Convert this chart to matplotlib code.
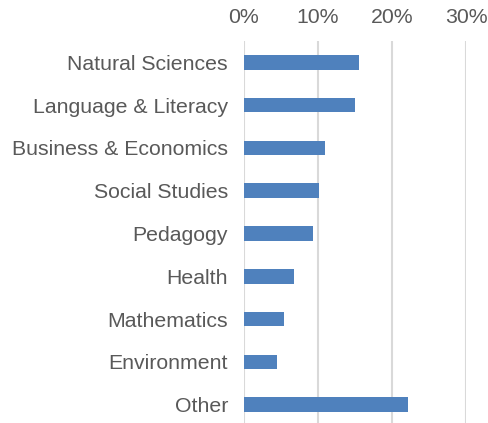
import matplotlib.pyplot as plt
from matplotlib.ticker import PercentFormatter

# --- Data ---
categories = ['Natural Sciences', 'Language & Literacy', 'Business & Economics',
              'Social Studies', 'Pedagogy', 'Health', 'Mathematics',
              'Environment', 'Other']
shares = [0.156, 0.150, 0.110, 0.102, 0.093, 0.068, 0.054, 0.045, 0.222]
x_ticks = [0, 0.1, 0.2, 0.3]

plt.rcParams['font.family'] = ['Liberation Sans', 'DejaVu Sans']

fig = plt.figure(figsize=(4.89, 4.23), dpi=100)
ax = fig.add_axes([244 / 489, -3 / 423, 222 / 489, 385 / 423])

ypos = range(len(categories))
ax.barh(ypos, shares, height=0.34, color='#4f81bd', zorder=3)

ax.set_xlim(0, 0.3)
ax.set_ylim(len(categories) - 0.5, -0.5)
ax.set_xticks(x_ticks)
ax.xaxis.set_major_formatter(PercentFormatter(1.0, decimals=0))
ax.set_yticks(list(ypos))
ax.set_yticklabels(categories)

ax.xaxis.tick_top()
ax.grid(axis='x', color='#d9d9d9', linewidth=1.5, zorder=0)
for s in ax.spines.values():
    s.set_visible(False)
ax.tick_params(axis='both', length=0, labelsize=15.3, labelcolor='#595959')
ax.tick_params(axis='y', pad=11.5)
ax.tick_params(axis='x', pad=10)

fig.savefig('out.png', dpi=100)
